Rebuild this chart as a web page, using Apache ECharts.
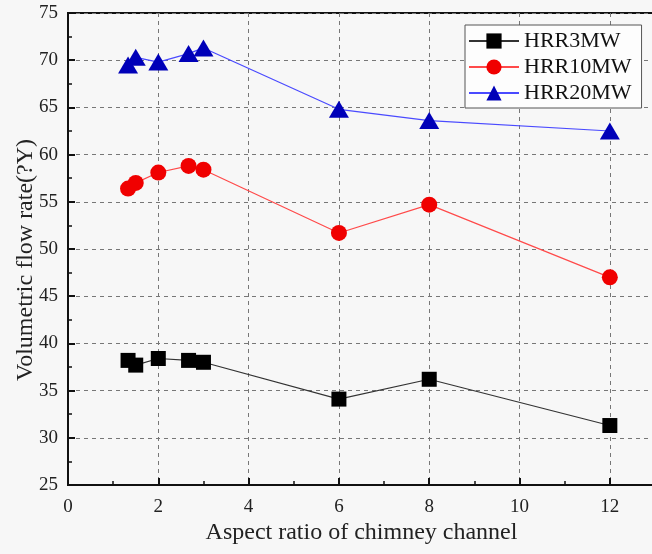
<!DOCTYPE html>
<html>
<head>
<meta charset="utf-8">
<script src="https://cdn.jsdelivr.net/npm/echarts@6/dist/echarts.min.js"></script>
<style>
  html, body { margin: 0; padding: 0; background: #f7f7f7; }
  #chart { width: 652px; height: 554px; }
</style>
</head>
<body>
<div id="chart"></div>
<script>
// Aspect ratios of the chimney channel (x) and volumetric flow rate per fire size
const aspectRatios = [1.33, 1.5, 2, 2.67, 3, 6, 8, 12];
const hrr3MW  = [38.2, 37.7, 38.4, 38.2, 38.0, 34.1, 36.2, 31.3];
const hrr10MW = [56.4, 57.0, 58.1, 58.8, 58.4, 51.7, 54.7, 47.0];
const hrr20MW = [69.5, 70.3, 69.8, 70.7, 71.3, 64.8, 63.6, 62.5];
const seriesNames = ['HRR3MW', 'HRR10MW', 'HRR20MW'];

const FONT = 'Liberation Serif';

function pairs(xs, ys) {
  return xs.map((x, i) => [x, ys[i]]);
}

const chart = echarts.init(document.getElementById('chart'), null, { renderer: 'canvas' });

const axisCommon = {
  axisLine: { show: true, onZero: false, lineStyle: { color: '#111', width: 2 } },
  axisTick: { show: true, inside: true, length: 7, lineStyle: { color: '#111', width: 2 } },
  minorTick: { show: true, splitNumber: 2, length: 4, lineStyle: { color: '#111', width: 1.5 } },
  splitLine: { show: true, lineStyle: { color: '#777', type: [4, 4], width: 1 } },
  axisLabel: { color: '#222', fontFamily: FONT, fontSize: 19 },
  nameTextStyle: { color: '#222', fontFamily: FONT, fontSize: 24 },
  nameMoveOverlap: false
};

chart.setOption({
  backgroundColor: '#f7f7f7',
  animation: false,
  grid: {
    left: 68, top: 13, width: 587, height: 472,
    outerBoundsMode: 'none',
    show: true, borderColor: '#111', borderWidth: 2, backgroundColor: 'transparent'
  },
  xAxis: Object.assign({}, axisCommon, {
    type: 'value', min: 0, max: 13, interval: 2,
    name: 'Aspect ratio of chimney channel',
    nameLocation: 'middle', nameGap: 36,
    axisLabel: Object.assign({}, axisCommon.axisLabel, { margin: 13, showMaxLabel: false })
  }),
  yAxis: Object.assign({}, axisCommon, {
    type: 'value', min: 25, max: 75, interval: 5,
    name: 'Volumetric flow rate(?Y)',
    nameLocation: 'middle', nameGap: 30,
    nameTextStyle: Object.assign({}, axisCommon.nameTextStyle, { padding: [0, 22, 0, 0] }),
    axisLabel: Object.assign({}, axisCommon.axisLabel, { margin: 10 })
  }),
  legend: {
    orient: 'vertical',
    left: 465, top: 25,
    padding: [5, 10, 4, 3],
    itemGap: 4,
    itemWidth: 50, itemHeight: 19,
    backgroundColor: '#fdfdfd',
    borderColor: '#555', borderWidth: 1,
    textStyle: { color: '#111', fontFamily: FONT, fontSize: 22, padding: [0, 0, 0, 0] },
    data: seriesNames
  },
  series: [
    {
      name: seriesNames[0], type: 'line',
      data: pairs(aspectRatios, hrr3MW),
      symbol: 'rect', symbolSize: 15,
      itemStyle: { color: '#000' },
      lineStyle: { color: '#333', width: 1.2 }
    },
    {
      name: seriesNames[1], type: 'line',
      data: pairs(aspectRatios, hrr10MW),
      symbol: 'circle', symbolSize: 16,
      itemStyle: { color: '#f00000' },
      lineStyle: { color: '#ff4a4a', width: 1.2 }
    },
    {
      name: seriesNames[2], type: 'line',
      data: pairs(aspectRatios, hrr20MW),
      symbol: 'triangle', symbolSize: [20, 17],
      itemStyle: { color: '#0000b8' },
      lineStyle: { color: '#4a4aff', width: 1.2 }
    }
  ]
});
</script>
</body>
</html>
